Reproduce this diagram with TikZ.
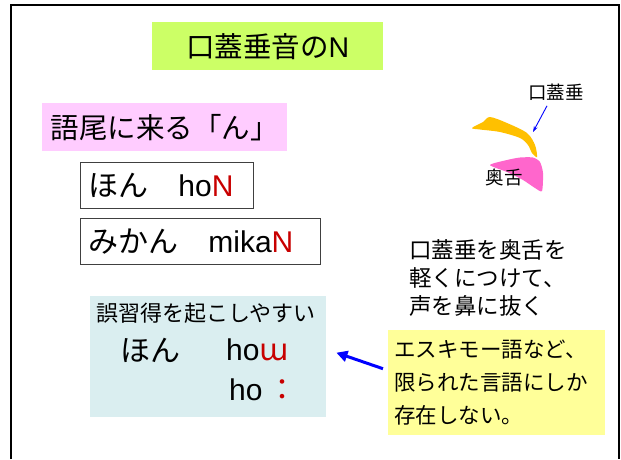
\documentclass[tikz,border=0pt]{standalone}
\usepackage{fontspec}
\setmainfont{Liberation Sans}
\newfontfamily\jp{Noto Sans CJK JP}
\newfontfamily\ipa{DejaVu Sans}
\usetikzlibrary{arrows.meta}
\definecolor{titlegreen}{RGB}{204, 255, 102}
\definecolor{tagpink}{RGB}{255, 204, 255}
\definecolor{errblue}{RGB}{218, 238, 240}
\definecolor{noteyellow}{RGB}{255, 255, 153}
\definecolor{velumorange}{RGB}{255, 192, 0}
\definecolor{tonguepink}{RGB}{255, 102, 204}
\definecolor{markred}{RGB}{200, 0, 0}
\definecolor{pointblue}{RGB}{0, 0, 255}

\begin{document}
\begin{tikzpicture}[x=1pt, y=-1pt,
  panel/.style={anchor=north west, inner sep=0pt},
  wordbox/.style={panel, draw=black!75, line width=0.8pt, inner xsep=8pt,
    minimum height=46pt, align=left, font=\fontsize{30}{30}\selectfont},
  jptext/.style={font=\jp\fontsize{#1}{#1}\selectfont}]

  \useasboundingbox (0,0) rectangle (621,459);

  % ── Slide frame (open at the bottom) ─────────────────────────────────────
  \draw[line width=2pt] (11,459) -- (11,5) -- (619,5) -- (619,459);

  % ── Title ────────────────────────────────────────────────────────────────
  \node[panel, fill=titlegreen, minimum width=231pt, minimum height=48pt,
        font=\fontsize{28.5}{30}\selectfont] (title) at (152,22)
    {{\jp 口蓋垂音の}N};

  % ── Word-final "n" ───────────────────────────────────────────────────────
  \node[panel, fill=tagpink, minimum width=245pt, minimum height=48pt,
        jptext=28.5] (final) at (42,103) {語尾に来る「ん」};

  \node[wordbox, text width=157pt] (hon) at (80,162)
    {{\jp ほん}\quad ho\textcolor{markred}{N}};
  \node[wordbox, text width=224pt] (mikan) at (80,218)
    {{\jp みかん}\quad mika\textcolor{markred}{N}};

  % ── Typical mistakes ─────────────────────────────────────────────────────
  \node[panel, fill=errblue, minimum width=236pt, minimum height=121pt]
    (err) at (90,296) {};
  \node[jptext=22] (errhead) at (206,313) {誤習得を起こしやすい};
  \node[anchor=west, inner sep=0pt, jptext=30] (errhon) at (120,350) {ほん};
  \node[anchor=west, inner sep=0pt, font=\fontsize{30}{30}\selectfont]
    (errhow) at (226,350) {ho\textcolor{markred}{\ipa ɯ}};
  \node[anchor=west, inner sep=0pt, font=\fontsize{30}{30}\selectfont]
    (errhoo) at (229,390) {ho\,\textcolor{markred}{\jp ：}};

  % ── Articulation sketch ──────────────────────────────────────────────────
  % uvula
  \fill[velumorange] plot[smooth cycle, tension=0.5] coordinates {
    (472,128) (483,122) (490,117) (507,123) (527,133) (535,145) (537,157)
    (532,153) (528,145) (520,138) (500,132) (480,129.5)};
  % back of the tongue
  \fill[tonguepink] plot[smooth cycle, tension=0.4] coordinates {
    (490,165) (507,160) (520,157.5) (533,157.5) (540,162) (543,173)
    (542,191) (535,188) (523,180) (507,172)};
  \node[jptext=18.5] (uvlabel) at (556,92) {口蓋垂};
  \node[jptext=18.5] (tglabel) at (504,178) {奥舌};
  \coordinate (uvtip) at (533,132);
  \draw[-{Stealth[length=6pt, width=4pt]}, pointblue, line width=0.9pt]
    ([xshift=-9pt, yshift=-2pt]uvlabel.south) -- (uvtip);

  \node[anchor=west, inner sep=0pt, align=left,
        font=\jp\fontsize{22.5}{28}\selectfont] (howto) at (409,278)
    {口蓋垂を奥舌を\\軽くにつけて、\\声を鼻に抜く};

  % ── Note on where the sound occurs ───────────────────────────────────────
  \node[panel, fill=noteyellow, minimum width=217pt, minimum height=105pt,
        text width=205pt, inner xsep=6pt, align=left,
        font=\jp\fontsize{21.5}{33}\selectfont] (note) at (388,330)
    {エスキモー語など、\\限られた言語にしか\\存在しない。};

  \draw[-{Triangle[length=11pt, width=11pt]}, pointblue, line width=3pt]
    ([xshift=-5pt, yshift=14pt]note.west) -- ([xshift=10pt, yshift=4pt]err.east);

\end{tikzpicture}
\end{document}
